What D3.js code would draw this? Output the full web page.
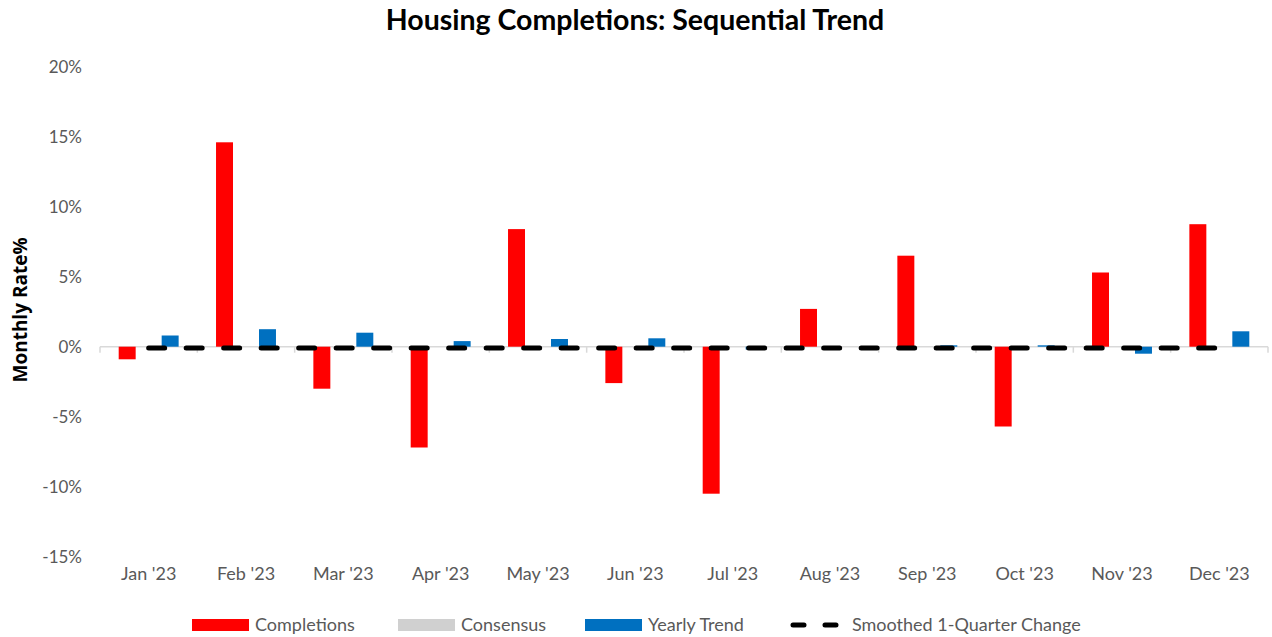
<!DOCTYPE html>
<html>
  <head>
    <title>Housing Completions: Sequential Trend</title>
    <meta charset="UTF-8" />
    <script src="https://d3js.org/d3.v7.min.js"></script>
    <style>
        body { margin: 0; background: #fff; }
        text { font-family: Lato, "Open Sans", sans-serif; }
        .tick text { fill: #595959; }
    </style>
  </head>
  <body>
    <script>
        // values (monthly % change)
        var months = ["Jan '23", "Feb '23", "Mar '23", "Apr '23", "May '23", "Jun '23",
                      "Jul '23", "Aug '23", "Sep '23", "Oct '23", "Nov '23", "Dec '23"];
        var completions = [-0.9, 14.6, -3.0, -7.2, 8.4, -2.6, -10.5, 2.7, 6.5, -5.7, 5.3, 8.75];
        var consensus   = [0, 0, 0, 0, 0, 0, 0, 0, 0, 0, 0, 0];
        var yearlyTrend = [0.8, 1.25, 1.0, 0.4, 0.55, 0.6, -0.2, 0, 0.1, 0.1, -0.5, 1.1];
        var smoothed    = [-0.1, -0.1, -0.1, -0.1, -0.1, -0.1, -0.1, -0.1, -0.1, -0.1, -0.1, -0.1];
        var yTicks = [-15, -10, -5, 0, 5, 10, 15, 20];

        var series = [
            {key: "Completions", values: completions, color: "#ff0000"},
            {key: "Consensus", values: consensus, color: "#c8c8c8"},
            {key: "Yearly Trend", values: yearlyTrend, color: "#0070c0"}
        ];

        var width = 1272, height = 637;
        var margin = {left: 100, right: 4, top: 67, bottom: 81};

        var svg = d3.select("body").append("svg")
            .attr("width", width)
            .attr("height", height);

        var x = d3.scaleBand()
            .domain(months)
            .range([margin.left, width - margin.right]);

        var xs = d3.scaleBand()
            .domain(series.map(d => d.key))
            .range([0, x.bandwidth()])
            .paddingInner(0.21)
            .paddingOuter(0.87);

        var y = d3.scaleLinear()
            .domain([-15, 20])
            .range([556.7, 66.7]);

        // title
        svg.append("text")
            .attr("x", 635).attr("y", 30)
            .attr("text-anchor", "middle")
            .style("font-size", "28.5px")
            .style("font-weight", "bold")
            .attr("fill", "#000")
            .text("Housing Completions: Sequential Trend");

        // y axis label
        svg.append("text")
            .attr("transform", "translate(27," + 310 + ") rotate(-90)")
            .attr("text-anchor", "middle")
            .style("font-family", "'Open Sans', sans-serif")
            .style("font-size", "19px")
            .style("font-weight", "bold")
            .attr("fill", "#000")
            .text("Monthly Rate%");

        // y axis
        var gy = svg.append("g")
            .attr("transform", "translate(82,0)")
            .call(d3.axisLeft(y).tickValues(yTicks).tickSize(0).tickPadding(0).tickFormat(d => d + "%"));
        gy.select(".domain").remove();
        gy.selectAll("text").style("font-size", "17px");

        // zero line and category ticks
        svg.append("line")
            .attr("x1", x.range()[0]).attr("x2", x.range()[1])
            .attr("y1", y(0)).attr("y2", y(0))
            .attr("stroke", "#d9d9d9").attr("stroke-width", 1.5);

        var bounds = months.map(m => x(m)).concat([x.range()[1]]);
        svg.selectAll(".ctick")
            .data(bounds)
            .enter().append("line")
            .attr("class", "ctick")
            .attr("x1", d => d).attr("x2", d => d)
            .attr("y1", y(0)).attr("y2", y(0) + 6)
            .attr("stroke", "#d9d9d9").attr("stroke-width", 1.5);

        // bars
        series.forEach(function(s) {
            svg.selectAll(".bar-" + s.key.replace(/ /g, ""))
                .data(s.values)
                .enter().append("rect")
                .attr("x", (d, i) => x(months[i]) + xs(s.key))
                .attr("width", xs.bandwidth())
                .attr("y", d => y(Math.max(0, d)))
                .attr("height", d => Math.abs(y(d) - y(0)))
                .attr("fill", s.color);
        });

        // smoothed line
        var line = d3.line()
            .x((d, i) => x(months[i]) + x.bandwidth() / 2)
            .y(d => y(d));
        svg.append("path")
            .datum(smoothed)
            .attr("d", line)
            .attr("fill", "none")
            .attr("stroke", "#000")
            .attr("stroke-width", 5)
            .attr("stroke-linecap", "round")
            .attr("stroke-dasharray", "16,21.5");

        // x axis labels
        var gx = svg.append("g")
            .attr("transform", "translate(0,567)")
            .call(d3.axisBottom(x).tickSize(0).tickPadding(0));
        gx.select(".domain").remove();
        gx.selectAll("text").style("font-size", "18px").attr("dy", "0.71em");

        // legend
        var legendItems = [
            {label: "Completions", color: "#ff0000", x: 192, type: "rect"},
            {label: "Consensus", color: "#d0d0d0", x: 398, type: "rect"},
            {label: "Yearly Trend", color: "#0070c0", x: 585, type: "rect"},
            {label: "Smoothed 1-Quarter Change", color: "#000", x: 790, type: "dash"}
        ];
        var lg = svg.append("g").attr("transform", "translate(0,625)");
        legendItems.forEach(function(it) {
            if (it.type === "rect") {
                lg.append("rect")
                    .attr("x", it.x).attr("y", -6)
                    .attr("width", 57).attr("height", 12)
                    .attr("fill", it.color);
                lg.append("text")
                    .attr("x", it.x + 63).attr("y", 0)
                    .attr("dy", "0.35em")
                    .style("font-size", "18px")
                    .attr("fill", "#595959")
                    .text(it.label);
            } else {
                lg.append("line")
                    .attr("x1", it.x + 3).attr("x2", it.x + 57)
                    .attr("y1", 0).attr("y2", 0)
                    .attr("stroke", it.color)
                    .attr("stroke-width", 5)
                    .attr("stroke-linecap", "round")
                    .attr("stroke-dasharray", "11,21");
                lg.append("text")
                    .attr("x", it.x + 62).attr("y", 0)
                    .attr("dy", "0.35em")
                    .style("font-size", "18px")
                    .attr("fill", "#595959")
                    .text(it.label);
            }
        });
    </script>
  </body>
</html>
